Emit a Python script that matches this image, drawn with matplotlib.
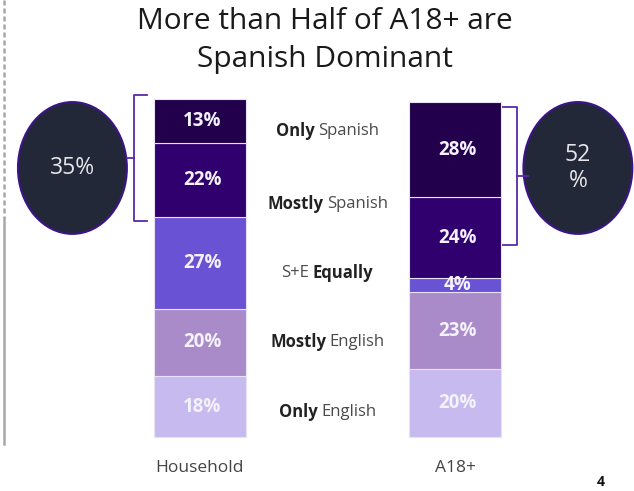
"""Language dominance: Household vs A18+ stacked bars."""

import matplotlib

matplotlib.use("Agg")
import matplotlib.pyplot as plt
import matplotlib.transforms as mtransforms
from matplotlib.patches import Ellipse

plt.rcParams["font.family"] = ["Open Sans", "DejaVu Sans"]

# data (bottom to top)
groups = ["Household", "A18+"]
segments = ["Only English", "Mostly English", "S+E Equally", "Mostly Spanish", "Only Spanish"]
household = [18, 20, 27, 22, 13]
adults = [20, 23, 4, 24, 28]
seg_colors = ["#c6baee", "#a98bc9", "#6a52d4", "#30006e", "#22004c"]
label_parts = [
    [("Only", "bold"), ("English", "normal")],
    [("Mostly", "bold"), ("English", "normal")],
    [("S+E", "normal"), ("Equally", "bold")],
    [("Mostly", "bold"), ("Spanish", "normal")],
    [("Only", "bold"), ("Spanish", "normal")],
]
label_y = [7.5, 28, 48.5, 69, 90.5]
household_dominant = "35%"
adults_dominant = "52\n%"

fig = plt.figure(figsize=(6.34, 4.91), dpi=100)
ax = fig.add_axes([0, 0, 1, 1])
ax.set_xlim(-0.784, 1.702)
ax.set_ylim(-15.98, 129.3)
ax.axis("off")

x_pos = [0, 1]
width = 0.36
for xi, values in zip(x_pos, [household, adults]):
    bottom = 0
    for val, col in zip(values, seg_colors):
        ax.bar(xi, val, width, bottom=bottom, color=col, edgecolor="#e8e2f6", linewidth=0.8)
        ax.text(xi + 0.01, bottom + val / 2, f"{val}%", ha="center", va="center",
                color="#f4f2fc", fontsize=13.5, fontweight="bold")
        bottom += val

# category labels under bars
for xi, name in zip(x_pos, groups):
    ax.text(xi, -9.2, name, ha="center", va="center", fontsize=12.5, color="#444444")

# middle legend-like labels with mixed weights
renderer = fig.canvas.get_renderer()
for parts, y in zip(label_parts, label_y):
    texts = [ax.text(0.5, y, s, ha="left", va="center", fontsize=12, fontweight=w,
                     color="#222222" if w == "bold" else "#4a4a4a") for s, w in parts]
    widths = [t.get_window_extent(renderer).width for t in texts]
    gap = 3.5
    offset = -(sum(widths) + gap * (len(widths) - 1)) / 2
    for t, w in zip(texts, widths):
        t.set_transform(mtransforms.offset_copy(ax.transData, fig=fig, x=offset, y=0, units="dots"))
        offset += w + gap

# brackets
bracket_col = "#5a2aa8"
ax.plot([-0.207, -0.259, -0.259, -0.207], [101.2, 101.2, 63.9, 63.9], color=bracket_col, lw=1.3)
ax.plot([-0.259, -0.286], [82.5, 82.5], color=bracket_col, lw=1.3)
ax.plot([1.188, 1.243, 1.243, 1.188], [97.6, 97.6, 56.8, 56.8], color=bracket_col, lw=1.3)
ax.plot([1.243, 1.286], [77.2, 77.2], color=bracket_col, lw=1.3)

# ellipses with totals
for cx, cy, label in [(-0.5, 79.6, household_dominant), (1.482, 79.6, adults_dominant)]:
    ax.add_patch(Ellipse((cx, cy), 0.427, 39, facecolor="#232839", edgecolor="#3b1587", lw=1.5))
    ax.text(cx, cy, label, ha="center", va="center", fontsize=16.5, color="#e6e6ea",
            linespacing=1.15)

# title
fig.text(0.513, 0.985, "More than Half of A18+ are\nSpanish Dominant", ha="center", va="top",
         fontsize=21.5, color="#1a1a1a", linespacing=1.4)

# left margin line and page number
fig.add_artist(plt.Line2D([0.007, 0.007], [1.0, 1 - 218 / 491], color="#a8a8a8", lw=1.8,
                          ls=(0, (2, 1.2))))
fig.add_artist(plt.Line2D([0.007, 0.007], [1 - 218 / 491, 1 - 444 / 491], color="#a8a8a8", lw=1.8))
fig.text(0.948, 0.004, "4", ha="center", va="bottom", fontsize=10, fontweight="bold", color="#111111")

fig.savefig("out.png", dpi=100)
plt.close(fig)
